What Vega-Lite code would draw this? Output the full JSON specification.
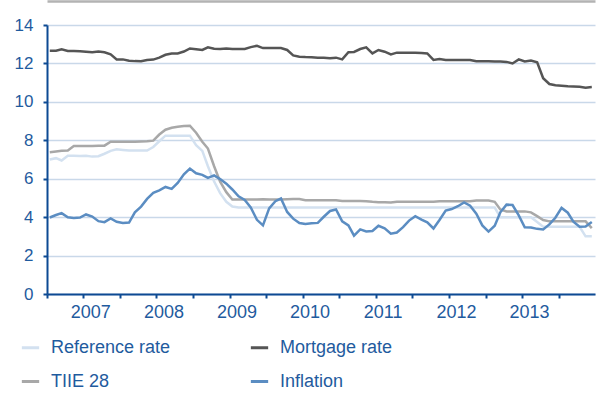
{
  "$schema": "https://vega.github.io/schema/vega-lite/v6.json",
  "width": 548,
  "height": 269,
  "autosize": {"type": "none"},
  "padding": {"left": 47, "top": 25, "right": 3, "bottom": 104},
  "background": "white",
  "config": {"view": {"stroke": null}, "font": "Liberation Sans"},
  "data": {"values": [
    {"date":"2007-01-15","Reference rate":7.0,"TIIE 28":7.38,"Mortgage rate":12.66,"Inflation":3.98},
    {"date":"2007-02-15","Reference rate":7.07,"TIIE 28":7.42,"Mortgage rate":12.66,"Inflation":4.11},
    {"date":"2007-03-15","Reference rate":6.95,"TIIE 28":7.45,"Mortgage rate":12.73,"Inflation":4.21},
    {"date":"2007-04-15","Reference rate":7.19,"TIIE 28":7.47,"Mortgage rate":12.65,"Inflation":3.99},
    {"date":"2007-05-15","Reference rate":7.2,"TIIE 28":7.7,"Mortgage rate":12.65,"Inflation":3.95},
    {"date":"2007-06-15","Reference rate":7.18,"TIIE 28":7.7,"Mortgage rate":12.64,"Inflation":3.98},
    {"date":"2007-07-15","Reference rate":7.2,"TIIE 28":7.7,"Mortgage rate":12.61,"Inflation":4.14},
    {"date":"2007-08-15","Reference rate":7.15,"TIIE 28":7.7,"Mortgage rate":12.58,"Inflation":4.03},
    {"date":"2007-09-15","Reference rate":7.17,"TIIE 28":7.71,"Mortgage rate":12.62,"Inflation":3.79},
    {"date":"2007-10-15","Reference rate":7.3,"TIIE 28":7.72,"Mortgage rate":12.58,"Inflation":3.74},
    {"date":"2007-11-15","Reference rate":7.45,"TIIE 28":7.93,"Mortgage rate":12.47,"Inflation":3.93},
    {"date":"2007-12-15","Reference rate":7.53,"TIIE 28":7.93,"Mortgage rate":12.21,"Inflation":3.76},
    {"date":"2008-01-15","Reference rate":7.5,"TIIE 28":7.93,"Mortgage rate":12.21,"Inflation":3.70},
    {"date":"2008-02-15","Reference rate":7.47,"TIIE 28":7.93,"Mortgage rate":12.14,"Inflation":3.72},
    {"date":"2008-03-15","Reference rate":7.47,"TIIE 28":7.93,"Mortgage rate":12.12,"Inflation":4.25},
    {"date":"2008-04-15","Reference rate":7.47,"TIIE 28":7.94,"Mortgage rate":12.11,"Inflation":4.55},
    {"date":"2008-05-15","Reference rate":7.47,"TIIE 28":7.95,"Mortgage rate":12.18,"Inflation":4.95},
    {"date":"2008-06-15","Reference rate":7.65,"TIIE 28":7.98,"Mortgage rate":12.2,"Inflation":5.26},
    {"date":"2008-07-15","Reference rate":7.95,"TIIE 28":8.3,"Mortgage rate":12.3,"Inflation":5.39},
    {"date":"2008-08-15","Reference rate":8.24,"TIIE 28":8.55,"Mortgage rate":12.45,"Inflation":5.57},
    {"date":"2008-09-15","Reference rate":8.24,"TIIE 28":8.65,"Mortgage rate":12.52,"Inflation":5.47},
    {"date":"2008-10-15","Reference rate":8.24,"TIIE 28":8.7,"Mortgage rate":12.52,"Inflation":5.78},
    {"date":"2008-11-15","Reference rate":8.24,"TIIE 28":8.74,"Mortgage rate":12.62,"Inflation":6.23},
    {"date":"2008-12-15","Reference rate":8.24,"TIIE 28":8.76,"Mortgage rate":12.78,"Inflation":6.53},
    {"date":"2009-01-15","Reference rate":7.75,"TIIE 28":8.39,"Mortgage rate":12.74,"Inflation":6.28},
    {"date":"2009-02-15","Reference rate":7.45,"TIIE 28":7.92,"Mortgage rate":12.7,"Inflation":6.20},
    {"date":"2009-03-15","Reference rate":6.65,"TIIE 28":7.57,"Mortgage rate":12.84,"Inflation":6.04},
    {"date":"2009-04-15","Reference rate":5.85,"TIIE 28":6.65,"Mortgage rate":12.76,"Inflation":6.17},
    {"date":"2009-05-15","Reference rate":5.25,"TIIE 28":5.85,"Mortgage rate":12.75,"Inflation":5.98},
    {"date":"2009-06-15","Reference rate":4.8,"TIIE 28":5.3,"Mortgage rate":12.78,"Inflation":5.74},
    {"date":"2009-07-15","Reference rate":4.55,"TIIE 28":4.92,"Mortgage rate":12.75,"Inflation":5.44},
    {"date":"2009-08-15","Reference rate":4.5,"TIIE 28":4.92,"Mortgage rate":12.75,"Inflation":5.08},
    {"date":"2009-09-15","Reference rate":4.5,"TIIE 28":4.92,"Mortgage rate":12.75,"Inflation":4.89},
    {"date":"2009-10-15","Reference rate":4.5,"TIIE 28":4.92,"Mortgage rate":12.85,"Inflation":4.50},
    {"date":"2009-11-15","Reference rate":4.5,"TIIE 28":4.92,"Mortgage rate":12.92,"Inflation":3.86},
    {"date":"2009-12-15","Reference rate":4.5,"TIIE 28":4.93,"Mortgage rate":12.8,"Inflation":3.57},
    {"date":"2010-01-15","Reference rate":4.5,"TIIE 28":4.92,"Mortgage rate":12.8,"Inflation":4.46},
    {"date":"2010-02-15","Reference rate":4.5,"TIIE 28":4.92,"Mortgage rate":12.8,"Inflation":4.83},
    {"date":"2010-03-15","Reference rate":4.5,"TIIE 28":4.92,"Mortgage rate":12.8,"Inflation":4.97},
    {"date":"2010-04-15","Reference rate":4.5,"TIIE 28":4.93,"Mortgage rate":12.7,"Inflation":4.27},
    {"date":"2010-05-15","Reference rate":4.5,"TIIE 28":4.94,"Mortgage rate":12.42,"Inflation":3.92},
    {"date":"2010-06-15","Reference rate":4.5,"TIIE 28":4.94,"Mortgage rate":12.35,"Inflation":3.69},
    {"date":"2010-07-15","Reference rate":4.5,"TIIE 28":4.88,"Mortgage rate":12.33,"Inflation":3.64},
    {"date":"2010-08-15","Reference rate":4.5,"TIIE 28":4.88,"Mortgage rate":12.32,"Inflation":3.68},
    {"date":"2010-09-15","Reference rate":4.5,"TIIE 28":4.88,"Mortgage rate":12.3,"Inflation":3.70},
    {"date":"2010-10-15","Reference rate":4.5,"TIIE 28":4.88,"Mortgage rate":12.3,"Inflation":4.02},
    {"date":"2010-11-15","Reference rate":4.5,"TIIE 28":4.88,"Mortgage rate":12.27,"Inflation":4.32},
    {"date":"2010-12-15","Reference rate":4.5,"TIIE 28":4.88,"Mortgage rate":12.3,"Inflation":4.40},
    {"date":"2011-01-15","Reference rate":4.5,"TIIE 28":4.84,"Mortgage rate":12.21,"Inflation":3.78},
    {"date":"2011-02-15","Reference rate":4.5,"TIIE 28":4.84,"Mortgage rate":12.58,"Inflation":3.57},
    {"date":"2011-03-15","Reference rate":4.5,"TIIE 28":4.84,"Mortgage rate":12.6,"Inflation":3.04},
    {"date":"2011-04-15","Reference rate":4.5,"TIIE 28":4.84,"Mortgage rate":12.75,"Inflation":3.36},
    {"date":"2011-05-15","Reference rate":4.5,"TIIE 28":4.83,"Mortgage rate":12.84,"Inflation":3.25},
    {"date":"2011-06-15","Reference rate":4.5,"TIIE 28":4.8,"Mortgage rate":12.52,"Inflation":3.28},
    {"date":"2011-07-15","Reference rate":4.5,"TIIE 28":4.78,"Mortgage rate":12.7,"Inflation":3.55},
    {"date":"2011-08-15","Reference rate":4.5,"TIIE 28":4.77,"Mortgage rate":12.61,"Inflation":3.42},
    {"date":"2011-09-15","Reference rate":4.5,"TIIE 28":4.76,"Mortgage rate":12.47,"Inflation":3.14},
    {"date":"2011-10-15","Reference rate":4.5,"TIIE 28":4.8,"Mortgage rate":12.56,"Inflation":3.20},
    {"date":"2011-11-15","Reference rate":4.5,"TIIE 28":4.8,"Mortgage rate":12.56,"Inflation":3.48},
    {"date":"2011-12-15","Reference rate":4.5,"TIIE 28":4.8,"Mortgage rate":12.56,"Inflation":3.82},
    {"date":"2012-01-15","Reference rate":4.5,"TIIE 28":4.8,"Mortgage rate":12.56,"Inflation":4.05},
    {"date":"2012-02-15","Reference rate":4.5,"TIIE 28":4.8,"Mortgage rate":12.54,"Inflation":3.87},
    {"date":"2012-03-15","Reference rate":4.5,"TIIE 28":4.8,"Mortgage rate":12.52,"Inflation":3.73},
    {"date":"2012-04-15","Reference rate":4.5,"TIIE 28":4.8,"Mortgage rate":12.18,"Inflation":3.41},
    {"date":"2012-05-15","Reference rate":4.5,"TIIE 28":4.83,"Mortgage rate":12.23,"Inflation":3.85},
    {"date":"2012-06-15","Reference rate":4.5,"TIIE 28":4.83,"Mortgage rate":12.18,"Inflation":4.34},
    {"date":"2012-07-15","Reference rate":4.5,"TIIE 28":4.83,"Mortgage rate":12.18,"Inflation":4.42},
    {"date":"2012-08-15","Reference rate":4.5,"TIIE 28":4.83,"Mortgage rate":12.18,"Inflation":4.57},
    {"date":"2012-09-15","Reference rate":4.5,"TIIE 28":4.83,"Mortgage rate":12.18,"Inflation":4.77},
    {"date":"2012-10-15","Reference rate":4.5,"TIIE 28":4.83,"Mortgage rate":12.18,"Inflation":4.60},
    {"date":"2012-11-15","Reference rate":4.5,"TIIE 28":4.87,"Mortgage rate":12.11,"Inflation":4.18},
    {"date":"2012-12-15","Reference rate":4.5,"TIIE 28":4.87,"Mortgage rate":12.11,"Inflation":3.57},
    {"date":"2013-01-15","Reference rate":4.5,"TIIE 28":4.86,"Mortgage rate":12.11,"Inflation":3.25},
    {"date":"2013-02-15","Reference rate":4.5,"TIIE 28":4.8,"Mortgage rate":12.1,"Inflation":3.55},
    {"date":"2013-03-15","Reference rate":4.0,"TIIE 28":4.4,"Mortgage rate":12.1,"Inflation":4.25},
    {"date":"2013-04-15","Reference rate":4.0,"TIIE 28":4.3,"Mortgage rate":12.08,"Inflation":4.65},
    {"date":"2013-05-15","Reference rate":4.0,"TIIE 28":4.3,"Mortgage rate":12.0,"Inflation":4.63},
    {"date":"2013-06-15","Reference rate":4.0,"TIIE 28":4.3,"Mortgage rate":12.21,"Inflation":4.09},
    {"date":"2013-07-15","Reference rate":4.0,"TIIE 28":4.3,"Mortgage rate":12.1,"Inflation":3.47},
    {"date":"2013-08-15","Reference rate":4.0,"TIIE 28":4.25,"Mortgage rate":12.15,"Inflation":3.46},
    {"date":"2013-09-15","Reference rate":3.75,"TIIE 28":4.05,"Mortgage rate":12.06,"Inflation":3.39},
    {"date":"2013-10-15","Reference rate":3.5,"TIIE 28":3.85,"Mortgage rate":11.23,"Inflation":3.36},
    {"date":"2013-11-15","Reference rate":3.5,"TIIE 28":3.78,"Mortgage rate":10.93,"Inflation":3.62},
    {"date":"2013-12-15","Reference rate":3.5,"TIIE 28":3.78,"Mortgage rate":10.86,"Inflation":3.97},
    {"date":"2014-01-15","Reference rate":3.5,"TIIE 28":3.78,"Mortgage rate":10.84,"Inflation":4.48},
    {"date":"2014-02-15","Reference rate":3.5,"TIIE 28":3.78,"Mortgage rate":10.81,"Inflation":4.23},
    {"date":"2014-03-15","Reference rate":3.5,"TIIE 28":3.78,"Mortgage rate":10.8,"Inflation":3.76},
    {"date":"2014-04-15","Reference rate":3.5,"TIIE 28":3.78,"Mortgage rate":10.79,"Inflation":3.50},
    {"date":"2014-05-15","Reference rate":3.0,"TIIE 28":3.78,"Mortgage rate":10.74,"Inflation":3.51},
    {"date":"2014-06-15","Reference rate":3.0,"TIIE 28":3.43,"Mortgage rate":10.77,"Inflation":3.75}
  ]},
  "transform": [
    {"fold": ["Reference rate", "TIIE 28", "Mortgage rate", "Inflation"], "as": ["series", "value"]}
  ],
  "layer": [
    {
      "mark": {"type": "line", "strokeWidth": 2.5},
      "encoding": {
        "x": {
          "field": "date", "type": "temporal",
          "scale": {"domain": [{"year": 2007, "month": 1, "date": 1}, {"year": 2014, "month": 7, "date": 1}]},
          "axis": {
            "title": null,
            "grid": false,
            "values": [
              {"year": 2007, "month": 1, "date": 1}, {"year": 2007, "month": 7, "date": 1},
              {"year": 2008, "month": 1, "date": 1}, {"year": 2008, "month": 7, "date": 1},
              {"year": 2009, "month": 1, "date": 1}, {"year": 2009, "month": 7, "date": 1},
              {"year": 2010, "month": 1, "date": 1}, {"year": 2010, "month": 7, "date": 1},
              {"year": 2011, "month": 1, "date": 1}, {"year": 2011, "month": 7, "date": 1},
              {"year": 2012, "month": 1, "date": 1}, {"year": 2012, "month": 7, "date": 1},
              {"year": 2013, "month": 1, "date": 1}, {"year": 2013, "month": 7, "date": 1},
              {"year": 2014, "month": 1, "date": 1}
            ],
            "labelExpr": "month(datum.value) == 6 ? timeFormat(datum.value, '%Y') : ''",
            "labelOffset": 7,
            "labelFontSize": 18,
            "labelColor": "#1f5b9e",
            "labelPadding": 5,
            "labelOverlap": false,
            "labelFlush": false,
            "domainColor": "#0d4a93",
            "domainWidth": 2,
            "tickColor": "#0d4a93",
            "tickSize": 4,
            "tickWidth": 2
          }
        },
        "y": {
          "field": "value", "type": "quantitative",
          "scale": {"domain": [0, 14], "nice": false, "zero": false},
          "axis": {
            "title": null,
            "values": [0, 2, 4, 6, 8, 10, 12, 14],
            "grid": true,
            "gridColor": "#c9d8e9",
            "gridWidth": 1.3,
            "domainColor": "#0d4a93",
            "domainWidth": 2,
            "tickColor": "#0d4a93",
            "tickSize": 4,
            "tickWidth": 2,
            "labelFontSize": 17,
            "labelColor": "#1f5b9e",
            "labelPadding": 10
          }
        },
        "color": {
          "field": "series", "type": "nominal",
          "scale": {
            "domain": ["Reference rate", "Mortgage rate", "TIIE 28", "Inflation"],
            "range": ["#d3e1f0", "#555555", "#a8a8a8", "#5b8dc2"]
          },
          "legend": {
            "title": null,
            "orient": "none",
            "direction": "horizontal",
            "legendX": -27,
            "legendY": 312,
            "columns": 2,
            "symbolType": "stroke",
            "symbolStrokeWidth": 3,
            "symbolSize": 300,
            "labelFontSize": 18,
            "labelColor": "#1f5b9e",
            "labelOffset": 10,
            "labelLimit": 300,
            "columnPadding": 73,
            "rowPadding": 14,
            "padding": 0
          }
        }
      }
    },
    {
      "mark": {"type": "point", "opacity": 0},
      "encoding": {
        "x": {
          "field": "date", "type": "temporal",
          "axis": {
            "orient": "top",
            "offset": 24,
            "title": null,
            "labels": false,
            "ticks": false,
            "grid": false,
            "domainColor": "#b3b3b3",
            "domainWidth": 2.5
          }
        }
      }
    }
  ],
  "resolve": {"axis": {"x": "independent"}}
}
